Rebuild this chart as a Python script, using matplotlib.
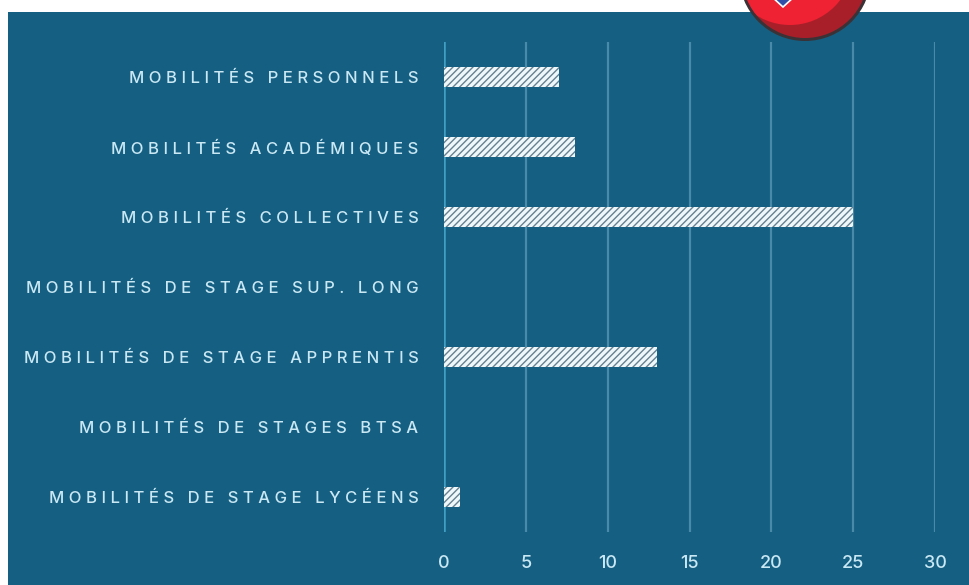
import matplotlib
matplotlib.use("Agg")
import matplotlib.pyplot as plt
from matplotlib.patches import Rectangle, Circle, Polygon

categories = ["MOBILITÉS PERSONNELS", "MOBILITÉS ACADÉMIQUES", "MOBILITÉS COLLECTIVES",
              "MOBILITÉS DE STAGE SUP. LONG", "MOBILITÉS DE STAGE APPRENTIS",
              "MOBILITÉS DE STAGES BTSA", "MOBILITÉS DE STAGE LYCÉENS"]
values = [7, 8, 25, 0, 13, 0, 1]
xticks = [0, 5, 10, 15, 20, 25, 30]

W, H = 969, 585
BG = "#155f82"
TXT = "#c9e8f4"
HAIR = "\u200a"
def track(s, n=1):
    return (HAIR * n).join(s)

plt.rcParams['font.family'] = ['Inter', 'DejaVu Sans']
plt.rcParams['hatch.linewidth'] = 1.0
fig = plt.figure(figsize=(W/100, H/100), dpi=100, facecolor="white")

bg = fig.add_axes([0, 0, 1, 1], zorder=0)
bg.set_xlim(0, W); bg.set_ylim(H, 0); bg.axis("off")
bg.add_patch(Rectangle((8, 12), W-8, H-12, fc=BG, ec="none"))

ax = fig.add_axes([444/W, 1-532/H, (935-444)/W, (532-42)/H], zorder=1)
ax.patch.set_alpha(0)
ax.set_xlim(0, 30)
ax.set_ylim(len(categories)-0.5, -0.5)
for s in ax.spines.values():
    s.set_visible(False)
ax.set_axisbelow(True)
ax.grid(axis="x", color="#4a8aa9", lw=1.6)
ax.axvline(0, color="#3f9fc4", lw=1.8, zorder=1.5)
ax.barh(range(len(categories)), values, height=0.28, color="#eef8fb",
        edgecolor="#66808f", hatch="/////", lw=0, zorder=3)
ax.set_yticks(range(len(categories)), [track(c, 3) for c in categories])
ax.set_xticks(xticks, [str(t) for t in xticks])
ax.tick_params(axis="y", length=0, pad=18.5, labelsize=12, labelcolor=TXT)
ax.tick_params(axis="x", length=0, pad=16.5, labelsize=13, labelcolor=TXT)
for t in ax.get_yticklabels() + ax.get_xticklabels():
    t.set_fontweight("medium")

# Red badge cut off by the top edge
badge = fig.add_axes([0, 0, 1, 1], zorder=2)
badge.set_xlim(0, W); badge.set_ylim(H, 0); badge.axis("off")
badge.add_patch(Circle((805, -25), 66, fc="#3a3236", ec="none"))
inner = Circle((805, -25), 63, fc="#a81f2a", ec="none")
badge.add_patch(inner)
bright = Circle((790, -38), 63, fc="#ee2232", ec="none")
badge.add_patch(bright)
bright.set_clip_path(inner)
badge.add_patch(Polygon([(771, -4), (783, 7), (795, -4)], fc="#2f4fa8", ec="white", lw=1.2))

fig.savefig("out.png", dpi=100, facecolor="white")
